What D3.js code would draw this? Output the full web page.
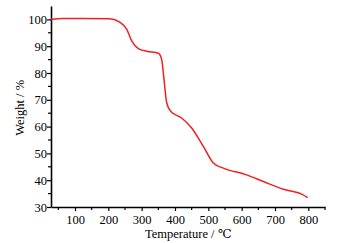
<!DOCTYPE html>
<html>
<head>
<meta charset="utf-8">
<script src="https://cdn.jsdelivr.net/npm/d3@7"></script>
<style>
  body { margin: 0; background: #fff; }
  svg text { font-family: "Liberation Serif", "DejaVu Serif", serif; }
</style>
</head>
<body>
<div id="chart"></div>
<script>
// TGA curve
var temps = [28, 64, 120, 205, 235, 255, 270, 290, 315, 350, 360, 367, 375, 387, 420, 450, 485, 515, 545, 615, 665, 725, 780, 798]
var weights = [100, 100.3, 100.3, 100.2, 98.9, 96.4, 92, 89.1, 88.1, 87.4, 85.1, 77.6, 69, 65.7, 63.2, 59.5, 52.6, 46.4, 44.5, 42.0, 39.5, 36.6, 34.8, 33.5]
var xTicks = [100, 200, 300, 400, 500, 600, 700, 800]
var yTicks = [30, 40, 50, 60, 70, 80, 90, 100]

var width = 338
var height = 243
var margin = {left: 51, right: 13, top: 6, bottom: 36}

var svg = d3.select("#chart").append("svg")
  .attr("width", width)
  .attr("height", height)

var x = d3.scaleLinear().domain([28, 850]).range([margin.left, width - margin.right])
var y = d3.scaleLinear().domain([30, 105]).range([height - margin.bottom, margin.top])

var data = temps.map((t, i) => ({t: t, w: weights[i]}))

// minor ticks
var xMinor = d3.range(50, 851, 100)
var yMinor = d3.range(35, 105, 10)

svg.append("g")
  .attr("transform", `translate(0,${y(30)})`)
  .selectAll("line")
  .data(xMinor)
  .join("line")
  .attr("x1", d => x(d)).attr("x2", d => x(d))
  .attr("y1", 0).attr("y2", 3)
  .attr("stroke", "black").attr("stroke-width", 1.2)

svg.append("g")
  .attr("transform", `translate(${x(28)},0)`)
  .selectAll("line")
  .data(yMinor)
  .join("line")
  .attr("y1", d => y(d)).attr("y2", d => y(d))
  .attr("x1", 0).attr("x2", -3)
  .attr("stroke", "black").attr("stroke-width", 1.2)

var xAxis = svg.append("g")
  .attr("transform", `translate(0,${y(30)})`)
  .call(d3.axisBottom(x).tickValues(xTicks).tickSize(4).tickSizeOuter(0))

var yAxis = svg.append("g")
  .attr("transform", `translate(${x(28)},0)`)
  .call(d3.axisLeft(y).tickValues(yTicks).tickSize(4).tickSizeOuter(0))

;[xAxis, yAxis].forEach(a => {
  a.select(".domain").attr("stroke", "black").attr("stroke-width", 1.6)
  a.selectAll(".tick line").attr("stroke", "black").attr("stroke-width", 1.2)
  a.selectAll(".tick text")
    .attr("fill", "black")
    .style("font-size", "12.5px")
    .style("font-family", "Liberation Serif, serif")
})
xAxis.selectAll(".tick text").attr("dy", "0.8em")
yAxis.selectAll(".tick text").attr("x", -4)

// the curve
var line = d3.line()
  .x(d => x(d.t))
  .y(d => y(d.w))
  .curve(d3.curveMonotoneX)

svg.append("path")
  .datum(data)
  .attr("d", line)
  .attr("fill", "none")
  .attr("stroke", "#f02020")
  .attr("stroke-width", 1.5)

// axis titles
svg.append("text")
  .attr("x", x(440))
  .attr("y", 238)
  .attr("text-anchor", "middle")
  .style("font-size", "12.5px")
  .text("Temperature / ℃")

svg.append("text")
  .attr("transform", `translate(24,${y(67)}) rotate(-90)`)
  .attr("text-anchor", "middle")
  .style("font-size", "12.5px")
  .text("Weight / %")
</script>
</body>
</html>
